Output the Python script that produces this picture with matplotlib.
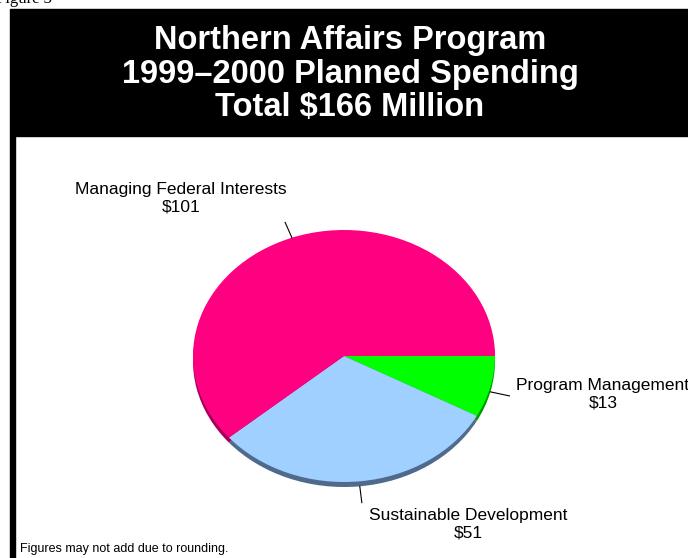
import numpy as np
import matplotlib.pyplot as plt
from matplotlib.patches import Rectangle

# 1999-2000 planned spending, $ millions
labels = ["Program Management", "Sustainable Development", "Managing Federal Interests"]
spending = [13, 51, 101]
total = 166

top_colors = ["#00FF00", "#9FD0FF", "#FF0080"]
side_colors = ["#009A00", "#4F6A8C", "#A8005A"]

W, H = 688, 558
fig = plt.figure(figsize=(W / 100, H / 100), dpi=100)
fig.patch.set_facecolor("white")


def fx(px):
    return px / W


def fy(py):
    return 1 - py / H


# black title band and left rule
fig.patches.append(Rectangle((fx(10), fy(136)), 1 - fx(10), (136 - 9) / H,
                             transform=fig.transFigure, color="black", zorder=0))
fig.patches.append(Rectangle((fx(10), 0), 5 / W, fy(136),
                             transform=fig.transFigure, color="black", zorder=0))

fig.text(fx(-4), fy(3), "Figure 3", family="Liberation Serif", fontsize=12,
         ha="left", va="baseline", color="black")

title = ("Northern Affairs Program\n1999\u20132000 Planned Spending\n"
         f"Total ${total} Million")
fig.text(fx(350), fy(74), title, family="Liberation Sans", weight="bold",
         fontsize=23.5, color="white", ha="center", va="center", linespacing=1.1)

# pie drawn as a flattened disc with a thin side wall
cx, cy, rx, ry, depth = 344, 356, 151, 126, 5
d = depth / ry
ax = fig.add_axes([fx(cx - rx), fy(cy + ry + depth), 2 * rx / W, (2 * ry + depth) / H])
ax.pie(spending, colors=side_colors, startangle=0, counterclock=False,
       center=(0, -d), wedgeprops=dict(linewidth=0))
wedges, _ = ax.pie(spending, colors=top_colors, startangle=0, counterclock=False,
                   wedgeprops=dict(linewidth=0))
ax.set_aspect("auto")
ax.set_xlim(-1, 1)
ax.set_ylim(-1 - d, 1)
ax.axis("off")

# leader lines
for w in wedges:
    t = np.deg2rad((w.theta1 + w.theta2) / 2)
    off = -d if np.sin(t) < 0 else 0
    ax.plot([np.cos(t), 1.13 * np.cos(t)],
            [np.sin(t) + off, 1.13 * np.sin(t) + off],
            color="black", lw=0.8, clip_on=False)

label_pos = {"Program Management": (603, 394),
             "Sustainable Development": (468, 524),
             "Managing Federal Interests": (181, 198)}
for name, v in zip(labels, spending):
    x, y = label_pos[name]
    fig.text(fx(x), fy(y), f"{name}\n${v}", family="Liberation Sans",
             fontsize=12.5, ha="center", va="center", linespacing=1.2)

fig.text(fx(20), fy(549), "Figures may not add due to rounding.",
         family="Liberation Sans", fontsize=9, ha="left", va="center")

fig.savefig("out.png", dpi=100)
